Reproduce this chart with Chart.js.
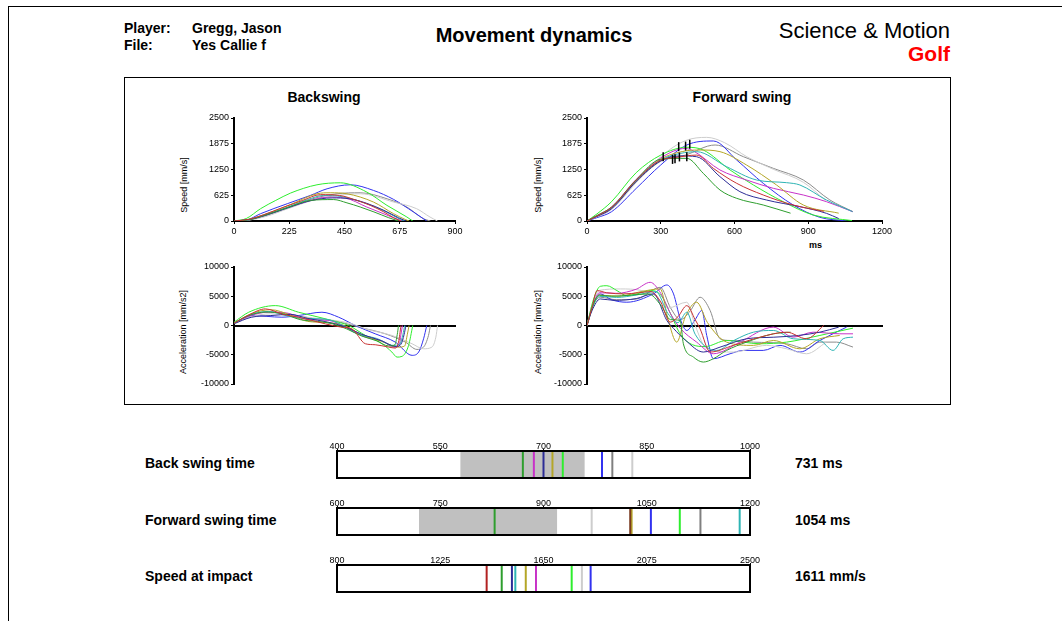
<!DOCTYPE html>
<html>
<head>
<meta charset="utf-8">
<script src="https://cdn.jsdelivr.net/npm/chart.js@4.4.1/dist/chart.umd.min.js"></script>
<style>
  body { margin: 0; background: #fff; font-family: "Liberation Sans", Arial, sans-serif; }
  #page { position: relative; width: 1062px; height: 621px; overflow: hidden; }
  .t { position: absolute; white-space: nowrap; line-height: 1; color: #000; }
  .b { font-weight: bold; }
  .vt { position: absolute; width: 120px; height: 10px; line-height: 10px; font-size: 9px; text-align: center; transform: rotate(-90deg); white-space: nowrap; }
  canvas { position: absolute; }
  #frame { position: absolute; left: 8px; top: 6px; width: 1100px; height: 700px; border-left: 1px solid #000; border-top: 1px solid #000; }
  #mainbox { position: absolute; left: 124px; top: 77px; width: 827px; height: 328px; border: 1.5px solid #000; box-sizing: border-box; }
</style>
</head>
<body>
<div id="page">
  <div id="frame"></div>
  <div class="t b" style="left:124px;top:21px;font-size:14px">Player:</div>
  <div class="t b" style="left:192px;top:21px;font-size:14px">Gregg, Jason</div>
  <div class="t b" style="left:124px;top:38px;font-size:14px">File:</div>
  <div class="t b" style="left:192px;top:38px;font-size:14px">Yes Callie f</div>
  <div class="t b" style="left:384px;top:25px;width:300px;text-align:center;font-size:20px">Movement dynamics</div>
  <div class="t" style="right:112px;top:20px;font-size:22px">Science &amp; Motion</div>
  <div class="t b" style="right:112px;top:43px;font-size:21px;color:#ff0000">Golf</div>

  <div id="mainbox"></div>
  <div class="t b" style="left:224px;top:90px;width:200px;text-align:center;font-size:14px">Backswing</div>
  <div class="t b" style="left:642px;top:90px;width:200px;text-align:center;font-size:14px">Forward swing</div>
  <div class="vt" style="left:124px;top:180px">Speed [mm/s]</div>
  <div class="vt" style="left:478px;top:180px">Speed [mm/s]</div>
  <div class="vt" style="left:123px;top:327px">Acceleration [mm/s2]</div>
  <div class="vt" style="left:478px;top:327px">Acceleration [mm/s2]</div>
  <div class="t b" style="left:809px;top:241px;font-size:9px">ms</div>

  <canvas id="bsSpeed" width="280" height="135" style="left:190px;top:108px"></canvas>
  <canvas id="fwSpeed" width="355" height="135" style="left:543px;top:108px"></canvas>
  <canvas id="bsAccel" width="280" height="140" style="left:190px;top:257px"></canvas>
  <canvas id="fwAccel" width="355" height="140" style="left:543px;top:257px"></canvas>

  <div class="t b" style="left:145px;top:456px;font-size:14px">Back swing time</div>
  <div class="t b" style="left:145px;top:513px;font-size:14px">Forward swing time</div>
  <div class="t b" style="left:145px;top:569px;font-size:14px">Speed at impact</div>
  <div class="t b" style="left:795px;top:456px;font-size:14px">731 ms</div>
  <div class="t b" style="left:795px;top:513px;font-size:14px">1054 ms</div>
  <div class="t b" style="left:795px;top:569px;font-size:14px">1611 mm/s</div>

  <canvas id="stripBack" width="470" height="56" style="left:300px;top:430px"></canvas>
  <canvas id="stripFwd" width="470" height="56" style="left:300px;top:487px"></canvas>
  <canvas id="stripImpact" width="470" height="56" style="left:300px;top:544px"></canvas>
</div>
<script>
// series order: red, green, navy, teal, olive, magenta, lime, light grey, blue, dark grey
const seriesColors = ['#c83232', '#2e9e2e', '#2c2c96', '#2eb4b4', '#b4a628', '#c832c8', '#2eee2e', '#cdcdcd', '#3232f0', '#8c8c8c'];

// [ms, mm/s]
const backSpeed = [
  [[0,0],[60,40],[120,150],[200,330],[280,500],[352,640],[430,620],[500,500],[555,380],[610,220],[650,80],[680,0]],
  [[0,0],[60,30],[130,150],[220,330],[311,500],[406,520],[460,440],[514,340],[570,220],[630,80],[670,0]],
  [[0,0],[60,30],[130,140],[220,320],[310,490],[400,560],[470,540],[540,430],[610,260],[670,80],[700,0]],
  [[0,0],[60,40],[130,160],[220,340],[300,520],[365,620],[440,590],[541,419],[620,220],[677,40],[695,0]],
  [[0,0],[60,40],[130,170],[230,400],[338,661],[392,685],[460,661],[568,460],[650,177],[700,30],[713,0]],
  [[0,0],[60,35],[130,150],[220,330],[300,480],[380,580],[450,560],[541,339],[620,150],[670,30],[686,0]],
  [[0,0],[50,60],[108,298],[170,500],[230,677],[338,879],[433,927],[541,702],[623,379],[704,97],[728,0]],
  [[0,0],[60,20],[130,110],[220,300],[320,500],[420,620],[514,661],[650,460],[744,298],[798,97],[829,0]],
  [[0,0],[50,20],[108,177],[217,420],[311,621],[379,782],[474,879],[568,742],[650,524],[731,218],[785,0]],
  [[0,0],[60,25],[130,130],[220,330],[320,540],[420,661],[514,685],[623,540],[704,339],[771,56],[800,0]]
];

const fwdSpeed = [
  [[0,0],[40,120],[100,330],[200,990],[300,1480],[360,1540],[446,1600],[514,1278],[609,914],[717,631],[839,388],[963,234]],
  [[0,0],[40,130],[100,340],[200,1000],[300,1500],[406,1521],[473,1157],[541,752],[609,550],[717,388],[828,190]],
  [[0,0],[40,110],[100,300],[200,960],[300,1460],[380,1580],[446,1560],[541,1076],[622,712],[730,510],[866,348],[974,186],[1024,60]],
  [[0,0],[40,120],[100,320],[200,980],[300,1480],[380,1640],[446,1683],[568,1318],[690,995],[812,930],[866,874],[974,510],[1080,227]],
  [[0,0],[40,120],[100,320],[200,990],[300,1500],[400,1700],[460,1723],[541,1683],[649,1359],[771,874],[880,388],[1024,190]],
  [[0,0],[40,130],[100,340],[200,1010],[300,1530],[400,1760],[433,1700],[541,1238],[649,995],[758,793],[880,631],[974,469],[1080,227]],
  [[0,0],[40,170],[100,470],[200,1173],[300,1600],[406,1790],[473,1723],[582,1238],[677,874],[798,469],[920,146],[1078,10]],
  [[0,0],[40,100],[100,280],[200,930],[300,1560],[400,1950],[487,2030],[560,1900],[650,1560],[760,1250],[880,940],[970,500]],
  [[0,0],[40,80],[100,226],[200,790],[300,1360],[406,1845],[514,1942],[609,1480],[717,914],[839,388],[947,89],[1056,0]],
  [[0,0],[40,100],[100,290],[200,950],[300,1450],[400,1600],[521,1845],[636,1561],[758,1278],[880,995],[988,510],[1082,227]]
];

// event markers on the forward swing speed curves
const markerTimes = [310, 348, 358, 373, 376, 401, 406, 418];
const markerSpeeds = [1560, 1495, 1510, 1805, 1555, 1818, 1560, 1865];

// [ms, mm/s2]
const backAccel = [
  [[0,400],[60,1800],[128,2840],[200,1900],[263,1420],[372,280],[440,-300],[480,-570],[535,-3120],[575,-3290],[630,-3690],[657,-3860],[670,-2840],[680,0]],
  [[0,400],[60,1700],[130,2300],[200,2000],[270,1000],[340,700],[400,300],[460,-600],[520,-1800],[580,-2600],[630,-3500],[655,-3300],[665,-1500],[670,0]],
  [[0,300],[70,1400],[150,1700],[230,1900],[300,1200],[380,600],[450,-200],[520,-1500],[600,-2600],[660,-3600],[680,-3200],[693,-1500],[700,0]],
  [[0,400],[70,1900],[140,2400],[220,1600],[290,1200],[370,1100],[440,100],[500,-1400],[580,-2200],[650,-3400],[675,-3200],[688,-1500],[695,0]],
  [[0,400],[70,2000],[150,2700],[230,1800],[300,700],[380,500],[450,0],[520,-1600],[600,-2700],[670,-3700],[695,-3500],[706,-1500],[713,0]],
  [[0,400],[70,1700],[140,2300],[220,2100],[300,1000],[380,900],[460,-400],[530,-1900],[600,-2600],[655,-3700],[672,-3500],[680,-1500],[686,0]],
  [[0,570],[60,2270],[168,3400],[263,2270],[318,1700],[399,850],[467,0],[535,-1700],[603,-3120],[643,-4540],[664,-5400],[684,-5280],[711,-3400],[728,0]],
  [[0,300],[70,1500],[150,2000],[230,1800],[320,1300],[420,800],[480,300],[535,-570],[643,-1700],[725,-3120],[772,-3980],[806,-3690],[822,-1990],[829,0]],
  [[0,400],[73,1700],[195,1420],[263,1700],[358,2270],[426,1420],[494,0],[575,-1420],[657,-2840],[725,-5100],[752,-4540],[772,-2270],[785,0]],
  [[0,400],[70,1800],[150,2300],[230,1900],[320,1200],[420,700],[508,-280],[616,-1420],[698,-2840],[745,-4090],[772,-3690],[792,-1700],[800,0]]
];

const fwdAccel = [
  [[0,0],[20,3000],[41,5960],[80,5600],[150,5400],[210,5600],[260,5800],[300,4000],[338,570],[370,1500],[406,3400],[440,1000],[460,-570],[501,-4540],[595,-3400],[704,-1990],[812,-1140],[893,-2270],[963,0]],
  [[0,0],[20,3000],[50,5200],[100,5000],[180,5200],[250,5400],[300,3500],[340,1000],[379,850],[392,-3120],[433,-5400],[473,-6250],[514,-5680],[568,-4260],[649,-2840],[758,-1420],[828,-1140]],
  [[0,0],[20,2500],[54,4540],[110,4300],[200,4600],[270,5400],[325,850],[352,-500],[400,-2500],[473,-4540],[541,-3700],[649,-2270],[760,-2000],[860,-1700],[947,-1140],[1024,-280]],
  [[0,0],[20,2800],[50,5000],[120,4800],[200,5200],[280,5800],[330,2000],[370,500],[406,2270],[440,-1500],[528,-4260],[600,-2500],[677,-1140],[758,-850],[839,-2270],[947,-2560],[1001,-4260],[1042,-2270],[1082,-1990]],
  [[0,0],[20,2800],[50,5200],[130,5000],[220,5800],[298,6250],[330,1000],[365,-2840],[400,1500],[446,3980],[490,500],[568,-2840],[677,-3400],[758,-2560],[866,-3980],[947,-2270],[1028,-1700]],
  [[0,0],[20,3000],[50,5600],[120,5500],[200,6200],[257,7380],[300,5500],[340,2000],[380,-500],[446,-2840],[514,-4830],[622,-2840],[758,-280],[839,-1990],[920,-1140],[1028,-1420],[1082,-1420]],
  [[0,0],[27,4540],[54,6700],[81,6800],[122,5960],[162,5100],[203,5400],[260,6000],[300,5200],[340,2000],[380,-1500],[430,-3300],[480,-3600],[568,-2560],[704,-3120],[812,-2840],[947,-1700],[1082,-450]],
  [[0,0],[20,3500],[50,6000],[135,6250],[220,6000],[280,5000],[330,3000],[406,3980],[440,0],[487,-3980],[595,-4540],[730,-3400],[812,-3980],[893,-4830],[974,-2840]],
  [[0,0],[20,3000],[54,5400],[100,4400],[162,3980],[270,5400],[325,6930],[352,5400],[379,1140],[406,-850],[440,1000],[467,2560],[487,-1700],[514,-5680],[582,-4830],[636,-4260],[717,-4260],[785,-3400],[866,-4540],[947,-2560],[1056,-280]],
  [[0,0],[20,3000],[54,4830],[120,4400],[203,4540],[298,6530],[340,3000],[380,1000],[420,2500],[460,4830],[501,2560],[541,-2270],[582,-2560],[677,-2840],[812,-3120],[893,-3980],[947,-2840],[1015,-2840],[1082,-3690]]
];

// summary strips
const backTimes = [670, 686, 700, 713, 728, 785, 800, 829];
const backTimeColors = ['#2e9e2e', '#c832c8', '#2c2c96', '#b4a628', '#2eee2e', '#3232f0', '#808080', '#cdcdcd'];
const backRange = [579, 760];
const backTicks = [400, 1000, 150];

const fwdTimes = [829, 970, 1026, 1028, 1056, 1098, 1128, 1185];
const fwdTimeColors = ['#2e9e2e', '#cdcdcd', '#7a3a20', '#b4a628', '#3232f0', '#2eee2e', '#808080', '#2eb4b4'];
const fwdRange = [719, 920];
const fwdTicks = [600, 1200, 150];

const impactSpeeds = [1416, 1478, 1520, 1534, 1577, 1619, 1766, 1808, 1844];
const impactColors = ['#b22222', '#2e9e2e', '#2c2c96', '#2eb4b4', '#b4a628', '#c832c8', '#2eee2e', '#cdcdcd', '#3232f0'];
const impactTicks = [800, 2500, 425];

Chart.defaults.font.family = '"Liberation Sans", Arial, sans-serif';
Chart.defaults.color = '#000';

const plain = v => String(v);

function curveChart(id, series, xMax, xStep, yMin, yMax, yStep, accel, padRight, extra) {
  const datasets = series.map((pts, i) => ({
    data: pts.map(p => ({ x: p[0], y: p[1] })),
    borderColor: seriesColors[i],
    borderWidth: 1,
    pointRadius: 0,
    cubicInterpolationMode: 'monotone',
    fill: false
  }));
  if (extra) datasets.unshift(extra);
  return new Chart(document.getElementById(id), {
    type: 'line',
    data: { datasets },
    options: {
      animation: false,
      responsive: false,
      devicePixelRatio: 1,
      layout: { padding: { left: 0, right: padRight, top: 10, bottom: accel ? 13 : 6 } },
      plugins: { legend: { display: false }, tooltip: { enabled: false } },
      scales: {
        x: {
          type: 'linear', min: 0, max: xMax,
          position: accel ? { y: 0 } : 'bottom',
          ticks: { display: !accel, stepSize: xStep, font: { size: 9 }, padding: 2, maxRotation: 0, callback: plain },
          grid: { drawOnChartArea: false, drawTicks: !accel, tickLength: 3, color: '#000' },
          border: { color: '#000', width: 2 },
          afterFit: s => { if (!accel) s.height = 16; }
        },
        y: {
          min: yMin, max: yMax,
          ticks: { stepSize: yStep, font: { size: 9 }, padding: 2, callback: plain },
          grid: { drawOnChartArea: false, tickLength: 3, color: '#000' },
          border: { color: '#000', width: 2 },
          afterFit: s => { s.width = 44; }
        }
      }
    }
  });
}

const markers = {
  data: markerTimes.map((t, i) => ({ x: t, y: markerSpeeds[i] })),
  showLine: false,
  pointStyle: 'line',
  rotation: 90,
  pointRadius: 4.5,
  borderColor: '#000',
  borderWidth: 1.5,
  backgroundColor: '#000'
};

curveChart('bsSpeed', backSpeed, 900, 225, 0, 2500, 625, false, 15);
curveChart('fwSpeed', fwdSpeed, 1200, 300, 0, 2500, 625, false, 16, markers);
curveChart('bsAccel', backAccel, 900, 225, -10000, 10000, 5000, true, 15);
curveChart('fwAccel', fwdAccel, 1200, 300, -10000, 10000, 5000, true, 16);

const boxPlugin = {
  id: 'box',
  afterDatasetsDraw(chart) {
    const a = chart.chartArea, c = chart.ctx;
    c.save();
    c.strokeStyle = '#000';
    c.lineWidth = 2;
    c.strokeRect(a.left, a.top, a.right - a.left, a.bottom - a.top);
    c.restore();
  }
};

function stripChart(id, values, colors, range, ticks) {
  const datasets = values.map((v, i) => ({
    data: [{ x: v, y: 0 }, { x: v, y: 1 }],
    borderColor: colors[i],
    borderWidth: 2,
    pointRadius: 0
  }));
  if (range) {
    datasets.push({
      data: [{ x: range[0], y: 1 }, { x: range[1], y: 1 }],
      borderWidth: 0,
      pointRadius: 0,
      fill: 'origin',
      backgroundColor: '#c0c0c0'
    });
  }
  return new Chart(document.getElementById(id), {
    type: 'line',
    data: { datasets },
    plugins: [boxPlugin],
    options: {
      animation: false,
      responsive: false,
      devicePixelRatio: 1,
      layout: { padding: { left: 37, right: 20, top: 0, bottom: 8 } },
      plugins: { legend: { display: false }, tooltip: { enabled: false } },
      scales: {
        x: {
          type: 'linear', min: ticks[0], max: ticks[1], position: 'top',
          ticks: { stepSize: ticks[2], font: { size: 9 }, padding: -3, maxRotation: 0, callback: plain },
          grid: { drawOnChartArea: false, tickLength: 2, color: '#000' },
          border: { display: false },
          afterFit: s => { s.height = 21; }
        },
        y: { display: false, min: 0, max: 1 }
      }
    }
  });
}

stripChart('stripBack', backTimes, backTimeColors, backRange, backTicks);
stripChart('stripFwd', fwdTimes, fwdTimeColors, fwdRange, fwdTicks);
stripChart('stripImpact', impactSpeeds, impactColors, null, impactTicks);
</script>
</body>
</html>
